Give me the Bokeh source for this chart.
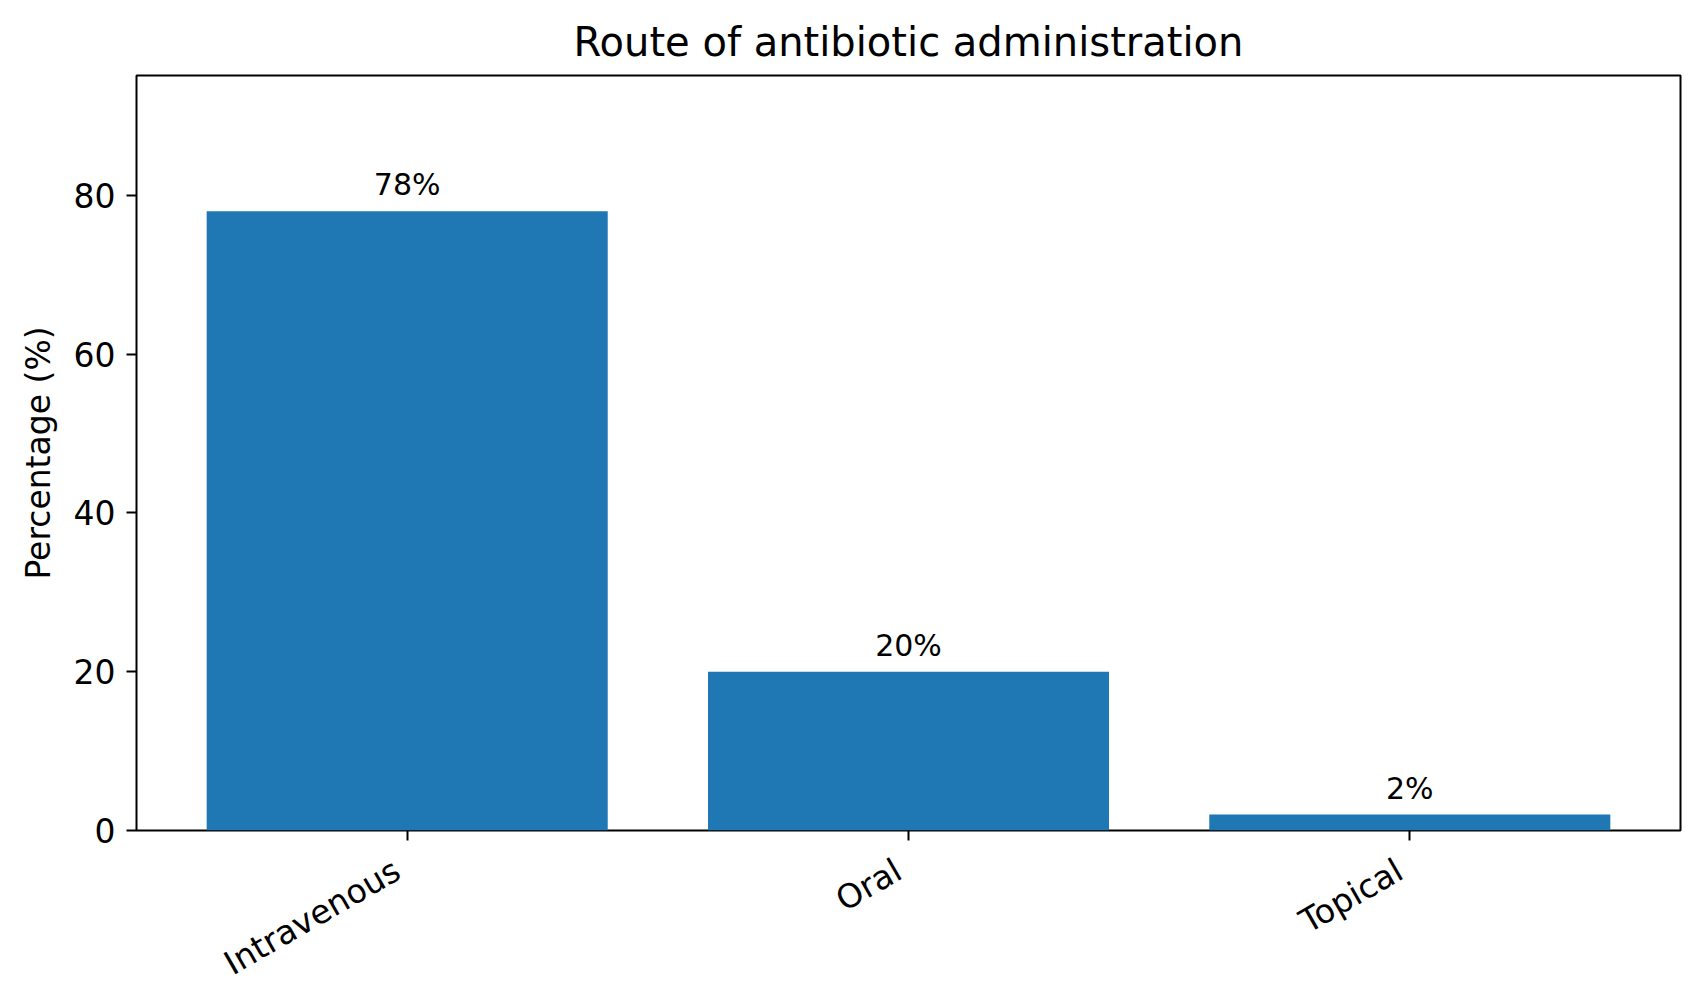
import math
from bokeh.plotting import figure
from bokeh.layouts import column
from bokeh.models import ColumnDataSource, Range1d, FixedTicker, LabelSet
from bokeh.core.properties import value
from bokeh.embed import file_html
from bokeh.resources import INLINE

routes = ["Intravenous", "Oral", "Topical"]
percentages = [78, 20, 2]
bar_labels = ["78%", "20%", "2%"]
y_ticks = [0, 20, 40, 60, 80]

xs = list(range(len(routes)))
zeros = [0] * len(routes)
src = ColumnDataSource(dict(x=xs, top=percentages, label=bar_labels))
cat_src = ColumnDataSource(dict(x=xs, y=zeros, name=routes))

FONT = "DejaVu Sans"
xr = Range1d(-0.54, 2.54)
p = figure(width=1687, height=850, output_backend="svg", toolbar_location=None,
           x_range=xr, y_range=Range1d(0, 95.1),
           min_border_left=136, min_border_right=7, min_border_top=75, min_border_bottom=20,
           title="Route of antibiotic administration")
p.vbar(x="x", top="top", bottom=0, width=0.8, source=src, color="#1f77b4", line_color=None)

labels = LabelSet(x="x", y="top", text="label", source=src, y_offset=16,
                  text_align="center", text_baseline="alphabetic",
                  text_font=value(FONT), text_font_size="30px", text_color="black")
p.add_layout(labels)

p.title.align = "center"
p.title.text_font = FONT
p.title.text_font_size = "40px"
p.title.text_font_style = "normal"
p.title.text_color = "black"
p.title.standoff = 21

p.xgrid.visible = False
p.ygrid.visible = False
p.outline_line_color = "black"
p.outline_line_width = 2
p.outline_line_alpha = 1

for ax in (p.xaxis[0], p.yaxis[0]):
    ax.axis_line_color = None
    ax.major_tick_line_color = "black"
    ax.major_tick_line_width = 2
    ax.major_tick_out = 10
    ax.major_tick_in = 0
    ax.minor_tick_line_color = None
    ax.major_label_text_font = FONT
    ax.major_label_text_font_size = "33px"
    ax.major_label_text_color = "black"

p.xaxis.ticker = FixedTicker(ticks=xs)
p.xaxis.major_label_overrides = {i: "" for i in xs}
p.xaxis.major_label_text_font_size = "1px"
p.xaxis.major_label_standoff = 0
p.yaxis.ticker = FixedTicker(ticks=y_ticks)
p.yaxis.major_label_standoff = 11
p.yaxis.axis_label = "Percentage (%)"
p.yaxis.axis_label_text_font = FONT
p.yaxis.axis_label_text_font_size = "33px"
p.yaxis.axis_label_text_font_style = "normal"
p.yaxis.axis_label_text_color = "black"
p.yaxis.axis_label_standoff = 13

# strip below the chart carrying the rotated category labels
q = figure(width=1687, height=139, output_backend="svg", toolbar_location=None,
           x_range=xr, y_range=Range1d(-1, 0),
           min_border_left=136, min_border_right=7, min_border_top=0, min_border_bottom=0)
q.axis.visible = False
q.grid.visible = False
q.outline_line_color = None
cat_labels = LabelSet(x="x", y="y", text="name", source=cat_src,
                      x_offset=-10, y_offset=-17, angle=math.radians(30),
                      text_align="right", text_baseline="middle",
                      text_font=value(FONT), text_font_size="33px", text_color="black")
q.add_layout(cat_labels)

layout = column(p, q, spacing=0)
open("out.html", "w").write(file_html(layout, INLINE))
